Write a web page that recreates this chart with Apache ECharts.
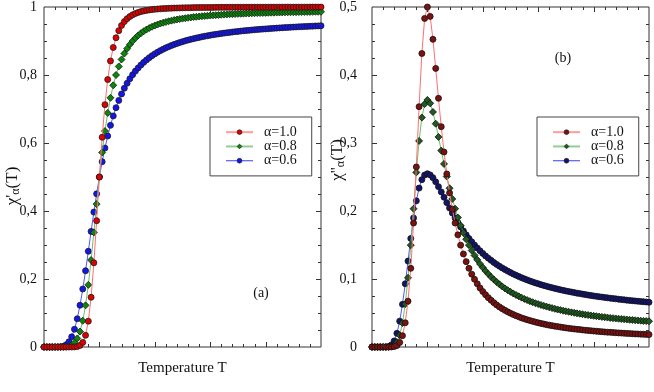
<!DOCTYPE html>
<html><head><meta charset="utf-8">
<script src="https://cdn.jsdelivr.net/npm/echarts@6/dist/echarts.min.js"></script>
<style>html,body{margin:0;padding:0;background:#fff}#c{width:654px;height:392px}</style>
</head><body><div id="c"></div>
<script>
// Temperature grid (x values)
var temps = [
0,0.05,0.1,0.15,0.2,0.25,0.3,0.35,0.4,0.45,
0.5,0.55,0.6,0.65,0.7,0.75,0.8,0.85,0.9,0.95,
1.0,1.05,1.1,1.15,1.2,1.25,1.3,1.35,1.4,1.45,
1.5,1.55,1.6,1.65,1.7,1.75,1.8,1.85,1.9,1.95,
2.0,2.05,2.1,2.15,2.2,2.25,2.3,2.35,2.4,2.45,
2.5,2.55,2.6,2.65,2.7,2.75,2.8,2.85,2.9,2.95,
3.0,3.05,3.1,3.15,3.2,3.25,3.3,3.35,3.4,3.45,
3.5,3.55,3.6,3.65,3.7,3.75,3.8,3.85,3.9,3.95,
4.0,4.05,4.1,4.15,4.2,4.25,4.3,4.35,4.4,4.45,
4.5,4.55,4.6,4.65,4.7,4.75,4.8,4.85,4.9,4.95,
5.0];
// panel (a): chi' for alpha = 1.0, 0.8, 0.6
var chiRe10 = [
0,0,0,0,0,0,0,0,0,0,
0,0.0003,0.0013,0.0046,0.0136,0.0344,0.0759,0.1462,0.2477,0.3715,
0.5,0.6168,0.7128,0.7865,0.8412,0.8808,0.9095,0.9304,0.9457,0.9570,
0.9656,0.9720,0.9770,0.9809,0.9840,0.9864,0.9884,0.9900,0.9913,0.9924,
0.9933,0.9941,0.9947,0.9953,0.9957,0.9961,0.9965,0.9968,0.9971,0.9973,
0.9975,0.9977,0.9979,0.9980,0.9982,0.9983,0.9984,0.9985,0.9986,0.9987,
0.9987,0.9988,0.9989,0.9989,0.9990,0.9990,0.9991,0.9991,0.9991,0.9992,
0.9992,0.9992,0.9993,0.9993,0.9993,0.9993,0.9994,0.9994,0.9994,0.9994,
0.9994,0.9995,0.9995,0.9995,0.9995,0.9995,0.9995,0.9996,0.9996,0.9996,
0.9996,0.9996,0.9996,0.9996,0.9996,0.9996,0.9997,0.9997,0.9997,0.9997,
0.9997];
var chiRe08 = [
0,0,0,0,0,0,0,0.0002,0.0008,0.0024,
0.0059,0.0128,0.0251,0.0455,0.0770,0.1225,0.1827,0.2558,0.3371,0.4203,
0.5,0.5722,0.6351,0.6884,0.7329,0.7697,0.8000,0.8251,0.8458,0.8631,
0.8775,0.8897,0.9000,0.9088,0.9164,0.9230,0.9287,0.9337,0.9381,0.9420,
0.9454,0.9485,0.9513,0.9538,0.9560,0.9581,0.9599,0.9616,0.9632,0.9646,
0.9659,0.9671,0.9683,0.9693,0.9703,0.9712,0.9720,0.9728,0.9736,0.9743,
0.9749,0.9755,0.9761,0.9766,0.9772,0.9776,0.9781,0.9786,0.9790,0.9794,
0.9798,0.9801,0.9805,0.9808,0.9811,0.9814,0.9817,0.9820,0.9822,0.9825,
0.9827,0.9830,0.9832,0.9834,0.9836,0.9838,0.9840,0.9842,0.9844,0.9845,
0.9847,0.9849,0.9850,0.9852,0.9853,0.9855,0.9856,0.9857,0.9859,0.9860,
0.9861];
var chiRe06 = [
0,0,0,0,0,0.0001,0.0005,0.0022,0.0066,0.0152,
0.0299,0.0522,0.0831,0.1228,0.1705,0.2243,0.2816,0.3399,0.3967,0.4505,
0.5,0.5449,0.5850,0.6205,0.6519,0.6795,0.7038,0.7253,0.7442,0.7609,
0.7758,0.7890,0.8008,0.8114,0.8209,0.8295,0.8373,0.8444,0.8508,0.8567,
0.8621,0.8671,0.8716,0.8758,0.8798,0.8834,0.8867,0.8899,0.8928,0.8955,
0.8981,0.9005,0.9028,0.9049,0.9069,0.9088,0.9106,0.9123,0.9139,0.9154,
0.9169,0.9183,0.9196,0.9208,0.9220,0.9232,0.9243,0.9253,0.9263,0.9273,
0.9282,0.9291,0.9299,0.9307,0.9315,0.9323,0.9330,0.9337,0.9344,0.9350,
0.9356,0.9362,0.9368,0.9374,0.9379,0.9385,0.9390,0.9395,0.9400,0.9404,
0.9409,0.9413,0.9418,0.9422,0.9426,0.9430,0.9434,0.9437,0.9441,0.9444,
0.9448];
// panel (b): chi'' for alpha = 1.0, 0.8, 0.6
var chiIm10 = [
0,0,0,0,0,0,0,0.0001,0.0006,0.0022,
0.0067,0.0167,0.0356,0.0674,0.1157,0.1823,0.2648,0.3534,0.4316,0.4832,
0.5,0.4862,0.4525,0.4097,0.3657,0.3240,0.2868,0.2545,0.2266,0.2027,
0.1823,0.1649,0.1498,0.1368,0.1255,0.1157,0.1071,0.0996,0.0929,0.0868,
0.0815,0.0768,0.0725,0.0687,0.0651,0.0619,0.0590,0.0564,0.0539,0.0517,
0.0497,0.0478,0.0460,0.0444,0.0428,0.0414,0.0401,0.0389,0.0377,0.0366,
0.0356,0.0347,0.0338,0.0329,0.0321,0.0314,0.0306,0.0300,0.0293,0.0287,
0.0281,0.0275,0.0270,0.0265,0.0260,0.0256,0.0251,0.0247,0.0243,0.0239,
0.0235,0.0232,0.0228,0.0225,0.0221,0.0218,0.0216,0.0213,0.0210,0.0207,
0.0205,0.0202,0.0200,0.0197,0.0195,0.0193,0.0191,0.0189,0.0187,0.0185,
0.0183];
var chiIm08 = [
0,0,0,0,0,0,0.0001,0.0006,0.0024,0.0071,
0.0172,0.0352,0.0631,0.1017,0.1498,0.2034,0.2568,0.3031,0.3374,0.3572,
0.3633,0.3583,0.3456,0.3284,0.3089,0.2888,0.2693,0.2507,0.2335,0.2178,
0.2034,0.1904,0.1787,0.1681,0.1585,0.1498,0.1419,0.1347,0.1282,0.1222,
0.1168,0.1118,0.1073,0.1030,0.0991,0.0956,0.0922,0.0891,0.0862,0.0836,
0.0811,0.0787,0.0765,0.0745,0.0726,0.0707,0.0690,0.0674,0.0659,0.0644,
0.0631,0.0618,0.0605,0.0594,0.0583,0.0572,0.0562,0.0552,0.0543,0.0534,
0.0526,0.0518,0.0510,0.0503,0.0495,0.0489,0.0482,0.0476,0.0470,0.0464,
0.0458,0.0453,0.0448,0.0443,0.0438,0.0433,0.0428,0.0424,0.0420,0.0416,
0.0412,0.0408,0.0404,0.0400,0.0397,0.0393,0.0390,0.0387,0.0384,0.0381,
0.0378];
var chiIm06 = [
0,0,0,0,0,0.0001,0.0007,0.0031,0.0089,0.0201,
0.0380,0.0627,0.0930,0.1263,0.1596,0.1898,0.2149,0.2337,0.2461,0.2528,
0.2548,0.2531,0.2489,0.2429,0.2358,0.2281,0.2202,0.2123,0.2045,0.1970,
0.1898,0.1830,0.1766,0.1706,0.1649,0.1596,0.1546,0.1499,0.1456,0.1414,
0.1376,0.1340,0.1306,0.1274,0.1243,0.1215,0.1188,0.1163,0.1139,0.1116,
0.1095,0.1074,0.1055,0.1037,0.1019,0.1002,0.0987,0.0971,0.0957,0.0943,
0.0930,0.0917,0.0905,0.0894,0.0882,0.0872,0.0862,0.0852,0.0842,0.0833,
0.0824,0.0816,0.0808,0.0800,0.0792,0.0785,0.0778,0.0771,0.0764,0.0758,
0.0751,0.0745,0.0739,0.0734,0.0728,0.0723,0.0718,0.0713,0.0708,0.0703,
0.0698,0.0694,0.0689,0.0685,0.0681,0.0677,0.0673,0.0669,0.0666,0.0662,
0.0658];
var legendLabels = ['α=1.0', 'α=0.8', 'α=0.6'];
var yTicksA = ['0','0,2','0,4','0,6','0,8','1'];
var yTicksB = ['0','0,1','0,2','0,3','0,4','0,5'];

var SERIF = "'Liberation Serif','DejaVu Serif',serif";
function pairs(arr){ return temps.map(function(t,i){ return [t, arr[i]]; }); }

var lineCols = ['#ff6f6f', '#6cbf6c', '#5555ff'];
var legLine = [{color:'#ff9c9c', width:2}, {color:'#95cc95', width:2}, {color:'#3a3aff', width:1}];
var fillA = ['#e00000', '#0a860a', '#1414f0'];
var fillB = ['#7e1010', '#1f5a1f', '#14146e'];
var symbols = ['circle', 'diamond', 'circle'];
var sizes = [6, 7, 6];
var AX = '#333';

// axis settings: [xMax, xMajor, xMinorSplit, yMax, yMajor, yMinorSplit]
var panelAxes = [
  {xMax:5, xMajor:1, xSplit:5, yMax:1, yMajor:0.2, ySplit:4},
  {xMax:5, xMajor:1, xSplit:5, yMax:0.5, yMajor:0.1, ySplit:4}
];

function xAx(grid, p){
  return {type:'value', gridIndex:grid, min:0, max:p.xMax, interval:p.xMajor,
    axisLine:{show:false}, axisTick:{show:false}, axisLabel:{show:false}, splitLine:{show:false}};
}
function yAx(grid, p, labels, margin){
  return {type:'value', gridIndex:grid, min:0, max:p.yMax, interval:p.yMajor,
    axisLine:{show:false}, axisTick:{show:false}, splitLine:{show:false},
    axisLabel:{show:true, margin:margin, fontFamily:SERIF, fontSize:14, color:'#111',
      formatter:function(v){ return labels[Math.round(v/p.yMajor)]; }}};
}

var seriesA = [chiRe10, chiRe08, chiRe06];
var seriesB = [chiIm10, chiIm08, chiIm06];
var series = [];
var namesA = ['a10','a08','a06'], namesB = ['b10','b08','b06'];
var nameMap = {};
[2,1,0].forEach(function(k){
  nameMap[namesA[k]] = legendLabels[k];
  nameMap[namesB[k]] = legendLabels[k];
  series.push({type:'line', name:namesA[k], xAxisIndex:0, yAxisIndex:0, data:pairs(seriesA[k]),
    symbol:symbols[k], symbolSize:sizes[k], showAllSymbol:true, z:10-k,
    lineStyle:{color:lineCols[k], width:1},
    itemStyle:{color:fillA[k], borderColor:'#1a1a1a', borderWidth:0.8}});
  series.push({type:'line', name:namesB[k], xAxisIndex:1, yAxisIndex:1, data:pairs(seriesB[k]),
    symbol:symbols[k], symbolSize:sizes[k], showAllSymbol:true, z:10-k,
    lineStyle:{color:lineCols[k], width:1},
    itemStyle:{color:fillB[k], borderColor:'#111', borderWidth:0.8}});
});

function legend(names, fills, left, top){
  return {orient:'vertical', left:left, top:top, itemWidth:27, itemHeight:6, itemGap:0,
    padding:[8,15,8,15], borderColor:'#444', borderWidth:1, backgroundColor:'#fff',
    selectedMode:false,
    textStyle:{fontFamily:SERIF, fontSize:14, lineHeight:14.3, color:'#111', padding:[0,0,0,6]},
    formatter:function(n){ return nameMap[n]; },
    data: names.map(function(n,k){ return {name:n,
      itemStyle:{color:fills[k], borderColor:'#111', borderWidth:0.6},
      lineStyle:{color:legLine[k].color, width:legLine[k].width}}; })};
}

var chart = echarts.init(document.getElementById('c'), null, {renderer:'canvas'});
chart.setOption({
  animation:false,
  backgroundColor:'#fff',
  grid:[
    {left:44, top:6, width:277, height:341, show:true, borderColor:AX, borderWidth:1, backgroundColor:'transparent'},
    {left:372, top:6, width:277, height:341, show:true, borderColor:AX, borderWidth:1, backgroundColor:'transparent'}
  ],
  xAxis:[xAx(0, panelAxes[0]), xAx(1, panelAxes[1])],
  yAxis:[yAx(0, panelAxes[0], yTicksA, 7), yAx(1, panelAxes[1], yTicksB, 15)],
  legend:[legend(namesA, fillA, 210, 117), legend(namesB, fillB, 537, 117)],
  series:series
});

// Mirrored inward tick marks, positioned through the chart's own scales
var graphics = [
  {type:'text', x:13, y:186, rotation:Math.PI/2, style:{text:"χ'{s|α}(T)", fontFamily:SERIF, fontSize:17, fill:'#111', align:'center', verticalAlign:'middle', rich:{s:{fontFamily:SERIF, fontSize:12, verticalAlign:'bottom', padding:[6,0,0,0]}}}},
  {type:'text', x:338, y:160, rotation:Math.PI/2, style:{text:"χ''{s|α}(T)", fontFamily:SERIF, fontSize:17, fill:'#111', align:'center', verticalAlign:'middle', rich:{s:{fontFamily:SERIF, fontSize:12, verticalAlign:'bottom', padding:[6,0,0,0]}}}},
  {type:'text', x:182.5, y:368, style:{text:'Temperature T', fontFamily:SERIF, fontSize:15, fill:'#111', align:'center', verticalAlign:'middle'}},
  {type:'text', x:510.5, y:368, style:{text:'Temperature T', fontFamily:SERIF, fontSize:15, fill:'#111', align:'center', verticalAlign:'middle'}},
  {type:'text', x:261, y:293, style:{text:'(a)', fontFamily:SERIF, fontSize:14, fill:'#111', align:'center', verticalAlign:'middle'}},
  {type:'text', x:563, y:58, style:{text:'(b)', fontFamily:SERIF, fontSize:14, fill:'#111', align:'center', verticalAlign:'middle'}}
];
function seg(x1,y1,x2,y2){
  return {type:'line', silent:true, z:50, shape:{x1:x1,y1:y1,x2:x2,y2:y2}, style:{stroke:AX, lineWidth:1}};
}
panelAxes.forEach(function(p, g){
  var fp = function(x, y){ return chart.convertToPixel({gridIndex:g}, [x, y]); };
  var origin = fp(0, 0), corner = fp(p.xMax, p.yMax);
  var L = origin[0], B = origin[1], R = corner[0], T = corner[1];
  var nx = Math.round(p.xMax / p.xMajor) * p.xSplit;
  for (var i = 1; i < nx; i++) {
    var len = (i % p.xSplit === 0) ? 5 : 3;
    var px = Math.round(fp(i * p.xMajor / p.xSplit, 0)[0]) + 0.5;
    graphics.push(seg(px, B, px, B - len));
    graphics.push(seg(px, T, px, T + len));
  }
  var ny = Math.round(p.yMax / p.yMajor) * p.ySplit;
  for (var j = 1; j < ny; j++) {
    var lenY = (j % p.ySplit === 0) ? 5 : 3;
    var py = Math.round(fp(0, j * p.yMajor / p.ySplit)[1]) + 0.5;
    graphics.push(seg(L, py, L + lenY, py));
    graphics.push(seg(R, py, R - lenY, py));
  }
});
chart.setOption({graphic: graphics});
</script></body></html>
